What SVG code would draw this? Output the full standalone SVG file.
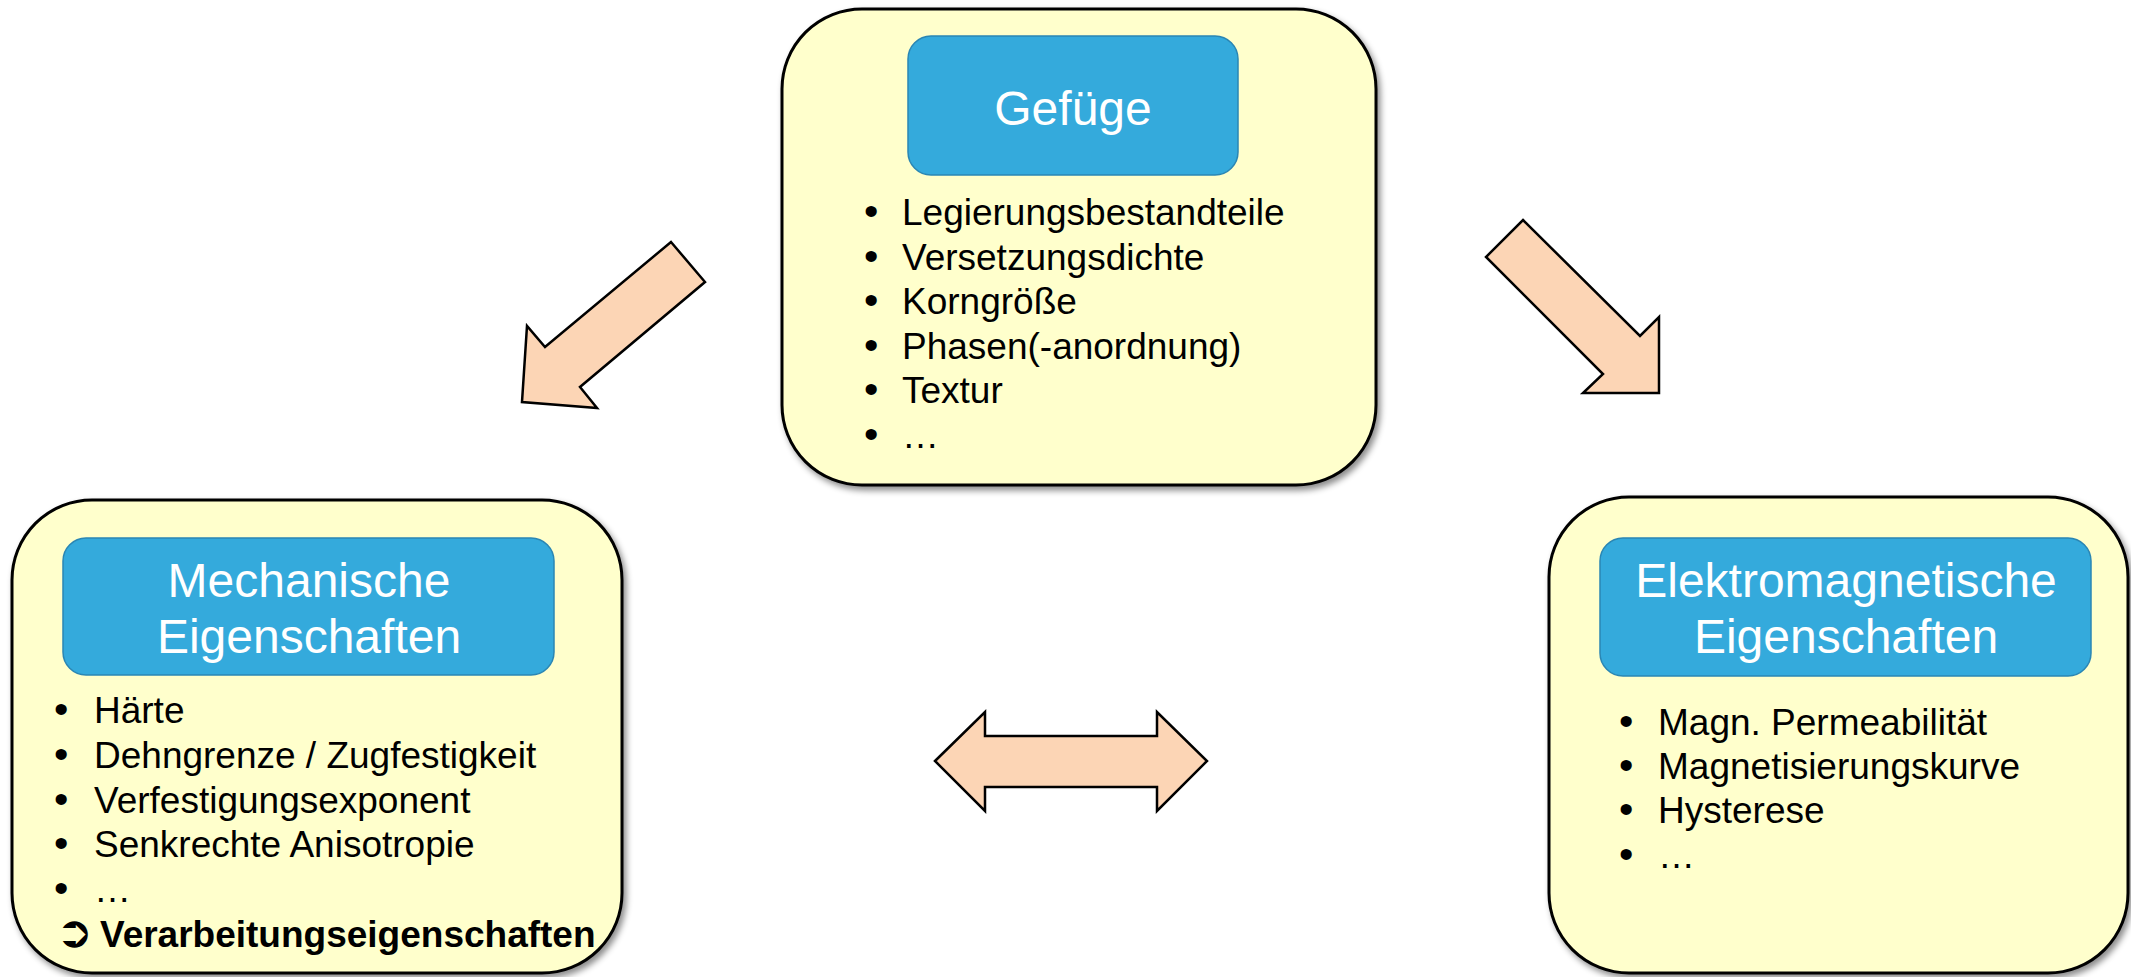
<svg xmlns="http://www.w3.org/2000/svg" width="2131" height="977" viewBox="0 0 2131 977">
<style>
.box{fill:#FFFFCC;stroke:#000;stroke-width:3;filter:url(#sh)}
.hd{fill:#34AADC;stroke:#2A86B4;stroke-width:1.5}
.ht{font-family:"Liberation Sans",Arial,sans-serif;font-size:48px;fill:#fff;text-anchor:middle}
.bt{font-family:"Liberation Sans",Arial,sans-serif;font-size:37px;fill:#000}
.bu{font-size:41px}
.arr{fill:#FCD5B5;stroke:#000;stroke-width:2.5;stroke-linejoin:miter}
</style>
<defs>
<filter id="sh" x="-5%" y="-5%" width="112%" height="112%">
<feDropShadow dx="3" dy="4" stdDeviation="3" flood-color="#000" flood-opacity="0.45"/>
</filter>
</defs>
<rect width="2131" height="977" fill="#fff"/>

<g id="gefuege">
<rect class="box" x="782" y="9" width="594" height="476" rx="80" ry="80"/>
<rect class="hd" x="908" y="36" width="330" height="139" rx="23" ry="23"/>
<text class="ht" x="1073" y="125">Gefüge</text>
<text class="bt" x="864" y="225"><tspan class="bu">•</tspan><tspan x="902">Legierungsbestandteile</tspan></text>
<text class="bt" x="864" y="270"><tspan class="bu">•</tspan><tspan x="902">Versetzungsdichte</tspan></text>
<text class="bt" x="864" y="314"><tspan class="bu">•</tspan><tspan x="902">Korngröße</tspan></text>
<text class="bt" x="864" y="359"><tspan class="bu">•</tspan><tspan x="902">Phasen(-anordnung)</tspan></text>
<text class="bt" x="864" y="403"><tspan class="bu">•</tspan><tspan x="902">Textur</tspan></text>
<text class="bt" x="864" y="448"><tspan class="bu">•</tspan><tspan x="902">…</tspan></text>
</g>

<g id="mechanisch">
<rect class="box" x="12" y="500" width="610" height="473" rx="80" ry="80"/>
<rect class="hd" x="63" y="538" width="491" height="137" rx="23" ry="23"/>
<text class="ht" x="309" y="597">Mechanische</text>
<text class="ht" x="309" y="653">Eigenschaften</text>
<text class="bt" x="54" y="723"><tspan class="bu">•</tspan><tspan x="94">Härte</tspan></text>
<text class="bt" x="54" y="768"><tspan class="bu">•</tspan><tspan x="94">Dehngrenze / Zugfestigkeit</tspan></text>
<text class="bt" x="54" y="813"><tspan class="bu">•</tspan><tspan x="94">Verfestigungsexponent</tspan></text>
<text class="bt" x="54" y="857"><tspan class="bu">•</tspan><tspan x="94">Senkrechte Anisotropie</tspan></text>
<text class="bt" x="54" y="902"><tspan class="bu">•</tspan><tspan x="94">…</tspan></text>
<text class="bt" x="56" y="947" style="font-weight:bold"><tspan style="font-family:'DejaVu Sans',sans-serif;font-size:44px;font-weight:normal">➲</tspan><tspan x="100">Verarbeitungseigenschaften</tspan></text>
</g>

<g id="elektromagnetisch">
<rect class="box" x="1549" y="497" width="579" height="476" rx="80" ry="80"/>
<rect class="hd" x="1600" y="538" width="491" height="138" rx="23" ry="23"/>
<text class="ht" x="1846" y="597">Elektromagnetische</text>
<text class="ht" x="1846" y="653">Eigenschaften</text>
<text class="bt" x="1619" y="735"><tspan class="bu">•</tspan><tspan x="1658">Magn. Permeabilität</tspan></text>
<text class="bt" x="1619" y="779"><tspan class="bu">•</tspan><tspan x="1658">Magnetisierungskurve</tspan></text>
<text class="bt" x="1619" y="823"><tspan class="bu">•</tspan><tspan x="1658">Hysterese</tspan></text>
<text class="bt" x="1619" y="868"><tspan class="bu">•</tspan><tspan x="1658">…</tspan></text>
</g>

<g id="connectors">
<polygon class="arr" points="671,242 705,282 580,387 597,408 522,402 527,326 545,347"/>
<polygon class="arr" points="1523,220 1640,336 1659,317 1659,393 1583,393 1603,374 1486,257"/>
<polygon class="arr" points="935,761 985,712 985,736 1157,736 1157,712 1207,761 1157,811 1157,787 985,787 985,811"/>
</g>
</svg>
